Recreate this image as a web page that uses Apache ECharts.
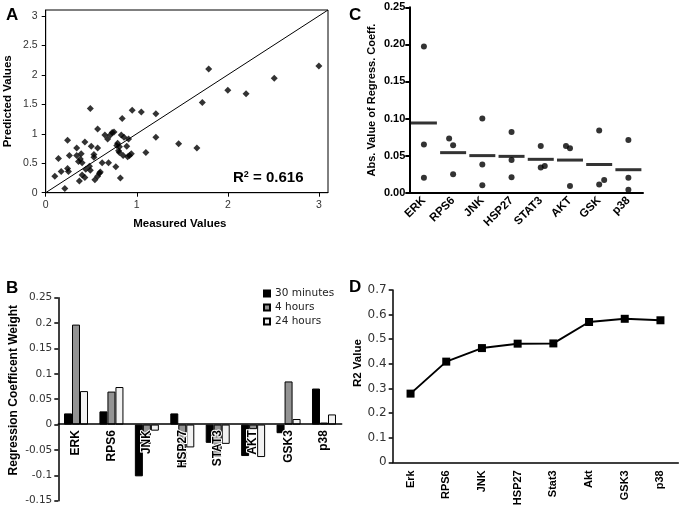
<!DOCTYPE html>
<html>
<head>
	<meta charset="utf-8" />
	<script src="https://cdn.jsdelivr.net/npm/echarts@6/dist/echarts.min.js"></script>
	<style>html,body{margin:0;padding:0;background:#fff;}</style>
</head>
<body>
	<div id="main" style="width:685px;height:513px;"></div>
	<script type="text/javascript">
		// A: measured vs predicted values
		var measured = [0.10, 0.14, 0.17, 0.21, 0.24, 0.24, 0.25, 0.26, 0.34, 0.34, 0.36, 0.37, 0.38, 0.39, 0.40, 0.40,
			0.43, 0.43, 0.44, 0.48, 0.49, 0.49, 0.50, 0.53, 0.53, 0.54, 0.57, 0.57, 0.57, 0.59, 0.60, 0.62, 0.65,
			0.68, 0.69, 0.71, 0.73, 0.75, 0.77, 0.78, 0.79, 0.80, 0.81, 0.81, 0.82, 0.83, 0.84, 0.85, 0.86, 0.89,
			0.90, 0.91, 0.92, 0.94, 0.95, 1.05, 1.10, 1.21, 1.21, 1.46, 1.66, 1.72, 1.79, 2.00, 2.20, 2.51, 3.00];
		var predicted = [0.28, 0.58, 0.36, 0.07, 0.89, 0.41, 0.36, 0.63, 0.76, 0.63, 0.53, 0.20, 0.57, 0.66, 0.51, 0.30,
			0.86, 0.26, 0.40, 0.45, 0.38, 1.43, 0.79, 0.60, 0.65, 0.22, 0.28, 0.76, 1.08, 0.33, 0.35, 0.51, 0.98,
			0.91, 0.51, 0.98, 1.02, 1.03, 0.44, 0.80, 0.84, 0.71, 0.78, 0.68, 0.25, 0.98, 1.26, 0.63, 0.94, 0.79,
			0.61, 0.91, 0.63, 0.66, 1.40, 1.37, 0.68, 1.34, 0.94, 0.83, 0.76, 1.53, 2.10, 1.74, 1.68, 1.94, 2.15];
		var diagLine = [[0, 0], [3.1, 3.1]];

		// B: regression coefficient weights
		var proteinsB = ['ERK', 'RPS6', 'JNK', 'HSP27', 'STAT3', 'AKT', 'GSK3', 'p38'];
		var w30min = [0.022, 0.026, -0.102, 0.022, -0.036, -0.062, -0.017, 0.071];
		var w4h = [0.197, 0.065, -0.038, -0.083, -0.063, -0.009, 0.085, 0.004];
		var w24h = [0.066, 0.074, -0.012, -0.045, -0.038, -0.064, 0.011, 0.020];

		// C: absolute values + means
		var proteinsC = ['ERK', 'RPS6', 'JNK', 'HSP27', 'STAT3', 'AKT', 'GSK', 'p38'];
		var absDots = [[0.197, 0.065, 0.020], [0.073, 0.064, 0.025], [0.100, 0.038, 0.010], [0.082, 0.044, 0.021],
			[0.063, 0.034, 0.036], [0.063, 0.060, 0.009], [0.084, 0.011, 0.017], [0.071, 0.020, 0.004]];
		var absJitter = [[0, 0, 0], [-4, 0, 0], [0, 0, 0], [0, 0, 0], [0, 0, 4], [-4, 0, 0], [0, 0, 5], [0, 0, 0]];
		var absMean = [0.094, 0.054, 0.050, 0.049, 0.045, 0.044, 0.038, 0.031];

		// D: R2 values
		var proteinsD = ['Erk', 'RPS6', 'JNK', 'HSP27', 'Stat3', 'Akt', 'GSK3', 'p38'];
		var r2Values = [0.279, 0.409, 0.464, 0.482, 0.483, 0.570, 0.583, 0.577];

		var ARIAL = 'Liberation Sans, Arial, sans-serif';
		var WIDE = 'DejaVu Sans, sans-serif';

		var scatterA = measured.map(function (m, i) { return [m, predicted[i]]; });
		var dotsC = [];
		absDots.forEach(function (vals, i) {
			vals.forEach(function (v, j) {
				dotsC.push({ value: [i, v], symbolOffset: [absJitter[i][j], 0] });
			});
		});
		var meanC = absMean.map(function (v, i) { return [i, v]; });

		var chart = echarts.init(document.getElementById('main'));

		function letter(t, l, tp) {
			return { text: t, left: l, top: tp, padding: 0, textStyle: { fontFamily: ARIAL, fontSize: 17, fontWeight: 'bold', color: '#000' } };
		}

		// B grid: top 297.7, bottom edge 500.7, range -0.15..0.25 -> zero line sits 76.7px above the bottom
		var option = {
			backgroundColor: '#fff',
			animation: false,
			title: [
				letter('A', 6, 7), letter('B', 6, 280), letter('C', 349, 7), letter('D', 349, 279),
				{
					left: 233, top: 170, padding: 0,
					text: '{a|R}{s|2}{a| = 0.616}',
					textStyle: {
						rich: {
							a: { fontFamily: ARIAL, fontSize: 15, fontWeight: 'bold', color: '#000' },
							s: { fontFamily: ARIAL, fontSize: 9, fontWeight: 'bold', color: '#000', verticalAlign: 'top', padding: [0, 0, 7, 0] }
						}
					}
				}
			],
			legend: {
				data: ['30 minutes', '4 hours', '24 hours'],
				orient: 'vertical', left: 263, top: 288, padding: 0,
				itemWidth: 6, itemHeight: 6, itemGap: 3, icon: 'rect',
				textStyle: { fontFamily: WIDE, fontSize: 10.5, color: '#222' }
			},
			grid: [
				{ left: 45.7, right: 357, top: 10, bottom: 320.3, show: true, borderColor: '#000', borderWidth: 1, backgroundColor: 'transparent' },
				{ left: 58.3, right: 343.3, top: 297.7, bottom: 12.3 },
				{ left: 409.3, right: 42, top: 7.3, bottom: 320.3 },
				{ left: 392.7, right: 6.7, top: 290, bottom: 50.7 }
			],
			xAxis: [
				{
					gridIndex: 0, type: 'value', min: 0, max: 3.1, interval: 1,
					name: 'Measured Values', nameLocation: 'middle', nameGap: 25,
					nameTextStyle: { fontFamily: ARIAL, fontSize: 11.5, fontWeight: 'bold', color: '#000', padding: [0, 14, 0, 0] },
					axisLine: { lineStyle: { color: '#000', width: 1 } },
					axisTick: { length: 4, lineStyle: { color: '#000' }, customValues: [0, 1, 2, 3] },
					axisLabel: { fontFamily: ARIAL, fontSize: 10.5, color: '#333', margin: 7, customValues: [0, 1, 2, 3] },
					splitLine: { show: false }
				},
				{
					gridIndex: 1, type: 'category', data: proteinsB, z: 5, offset: -76.6,
					axisLine: { onZero: false, lineStyle: { color: '#000', width: 1.5 } },
					axisTick: { show: false },
					axisLabel: {
						rotate: 90, margin: 6, fontFamily: ARIAL, fontSize: 12, fontWeight: 'bold', color: '#000',
						textBorderColor: '#fff', textBorderWidth: 2
					}
				},
				{
					gridIndex: 2, type: 'category', data: proteinsC,
					axisLine: { lineStyle: { color: '#000', width: 2 } },
					axisTick: { show: false },
					axisLabel: { rotate: 45, margin: 6, fontFamily: ARIAL, fontSize: 11.5, fontWeight: 'bold', color: '#000' }
				},
				{
					gridIndex: 3, type: 'category', data: proteinsD,
					axisLine: { lineStyle: { color: '#000', width: 1.5 } },
					axisTick: { show: false },
					axisLabel: { rotate: 90, margin: 8, fontFamily: ARIAL, fontSize: 11, fontWeight: 'bold', color: '#000' }
				}
			],
			yAxis: [
				{
					gridIndex: 0, type: 'value', min: 0, max: 3.1, interval: 0.5,
					name: 'Predicted Values', nameLocation: 'middle', nameGap: 32,
					nameTextStyle: { fontFamily: ARIAL, fontSize: 11.5, fontWeight: 'bold', color: '#000' },
					axisLine: { show: true, lineStyle: { color: '#000', width: 1 } },
					axisTick: { show: true, length: 4, lineStyle: { color: '#000' }, customValues: [0, 0.5, 1, 1.5, 2, 2.5, 3] },
					axisLabel: { fontFamily: ARIAL, fontSize: 10.5, color: '#333', margin: 8, customValues: [0, 0.5, 1, 1.5, 2, 2.5, 3] },
					splitLine: { show: false }
				},
				{
					gridIndex: 1, type: 'value', min: -0.15, max: 0.25, interval: 0.05,
					name: 'Regression Coefficent Weight', nameLocation: 'middle', nameGap: 39,
					nameTextStyle: { fontFamily: ARIAL, fontSize: 12, fontWeight: 'bold', color: '#000', padding: [0, 0, 0, 18] },
					axisLine: { show: true, lineStyle: { color: '#000', width: 1.5 } },
					axisTick: { show: true, length: 4, lineStyle: { color: '#000', width: 1.5 } },
					axisLabel: { fontFamily: WIDE, fontSize: 10.5, color: '#333', margin: 6 },
					splitLine: { show: false }
				},
				{
					gridIndex: 2, type: 'value', min: 0, max: 0.25, interval: 0.05,
					name: 'Abs. Value of Regress. Coeff.', nameLocation: 'middle', nameGap: 32,
					nameTextStyle: { fontFamily: ARIAL, fontSize: 11, fontWeight: 'bold', color: '#000' },
					axisLine: { show: true, lineStyle: { color: '#000', width: 2 } },
					axisTick: { show: true, length: 4, lineStyle: { color: '#000', width: 2 } },
					axisLabel: { fontFamily: ARIAL, fontSize: 11, fontWeight: 'bold', color: '#000', margin: 4,
						formatter: function (v) { return v.toFixed(2); } },
					splitLine: { show: false }
				},
				{
					gridIndex: 3, type: 'value', min: 0, max: 0.7, interval: 0.1,
					name: 'R2 Value', nameLocation: 'middle', nameGap: 29,
					nameTextStyle: { fontFamily: ARIAL, fontSize: 11.5, fontWeight: 'bold', color: '#000', padding: [0, 0, 0, 26] },
					axisLine: { show: true, lineStyle: { color: '#000', width: 1.5 } },
					axisTick: { show: true, length: 4, lineStyle: { color: '#000', width: 1.5 } },
					axisLabel: { fontFamily: WIDE, fontSize: 12, color: '#333', margin: 6 },
					splitLine: { show: false }
				}
			],
			series: [
				{
					type: 'line', xAxisIndex: 0, yAxisIndex: 0, data: diagLine, symbol: 'none',
					lineStyle: { color: '#000', width: 1 }, silent: true
				},
				{
					type: 'scatter', xAxisIndex: 0, yAxisIndex: 0, data: scatterA, symbol: 'diamond', symbolSize: 7,
					itemStyle: { color: '#000' }
				},
				{
					name: '30 minutes', type: 'bar', xAxisIndex: 1, yAxisIndex: 1, data: w30min, barWidth: 8, barGap: '0%',
					itemStyle: { color: '#000', borderColor: '#000', borderWidth: 1 }
				},
				{
					name: '4 hours', type: 'bar', xAxisIndex: 1, yAxisIndex: 1, data: w4h, barWidth: 8, barGap: '0%',
					itemStyle: { color: '#939393', borderColor: '#000', borderWidth: 1 }
				},
				{
					name: '24 hours', type: 'bar', xAxisIndex: 1, yAxisIndex: 1, data: w24h, barWidth: 8, barGap: '0%',
					itemStyle: { color: '#f2f2f2', borderColor: '#000', borderWidth: 1 }
				},
				{
					type: 'scatter', xAxisIndex: 2, yAxisIndex: 2, data: dotsC, symbol: 'circle', symbolSize: 6,
					itemStyle: { color: '#000' }
				},
				{
					type: 'scatter', xAxisIndex: 2, yAxisIndex: 2, data: meanC, symbol: 'rect', symbolSize: [26, 3],
					itemStyle: { color: '#000' }
				},
				{
					type: 'line', xAxisIndex: 3, yAxisIndex: 3, data: r2Values, symbol: 'rect', symbolSize: 8,
					lineStyle: { color: '#000', width: 2 }, itemStyle: { color: '#000' }
				}
			]
		};

		chart.setOption(option);
	</script>
</body>
</html>
